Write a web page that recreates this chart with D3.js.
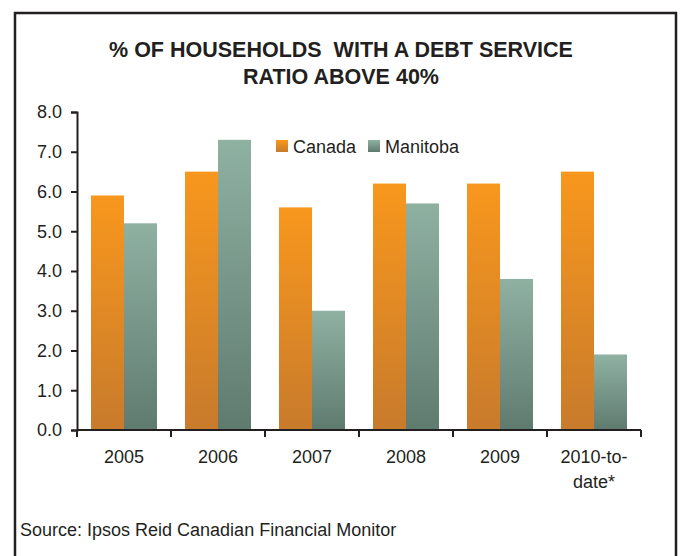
<!DOCTYPE html>
<html>
<head>
<meta charset="utf-8">
<script src="https://cdn.jsdelivr.net/npm/d3@7"></script>
<style>
  body { margin: 0; background: #fff; }
  svg { display: block; font-family: "Liberation Sans", Arial, sans-serif; }
</style>
</head>
<body>
<svg></svg>
<script>
const width = 681;
const height = 556;

const categories = ['2005', '2006', '2007', '2008', '2009', '2010-to-date*'];
const tickLabels = [['2005'], ['2006'], ['2007'], ['2008'], ['2009'], ['2010-to-', 'date*']];
const seriesNames = ['Canada', 'Manitoba'];
const canada = [5.9, 6.5, 5.6, 6.2, 6.2, 6.5];
const manitoba = [5.2, 7.3, 3.0, 5.7, 3.8, 1.9];
const yTicks = [0, 1, 2, 3, 4, 5, 6, 7, 8];

const ink = '#231f20';

const svg = d3.select('svg')
  .attr('width', width)
  .attr('height', height);

// gradients for the bars
const defs = svg.append('defs');
const grads = {
  Canada: ['#f8971d', '#c87b2c'],
  Manitoba: ['#8fb1a2', '#5f7b6f']
};
Object.entries(grads).forEach(([name, [top, bottom]]) => {
  const lg = defs.append('linearGradient')
    .attr('id', 'grad-' + name)
    .attr('x1', 0).attr('y1', 0).attr('x2', 0).attr('y2', 1);
  lg.append('stop').attr('offset', '0%').attr('stop-color', top);
  lg.append('stop').attr('offset', '100%').attr('stop-color', bottom);
});

// frame
svg.append('path')
  .attr('d', `M15,${height + 5} L15,13 L676,13 L676,${height + 5}`)
  .attr('fill', 'none')
  .attr('stroke', ink)
  .attr('stroke-width', 2.5);

// title
svg.append('text')
  .attr('x', 341)
  .attr('y', 57)
  .attr('text-anchor', 'middle')
  .attr('font-size', 21.5)
  .attr('font-weight', 'bold')
  .attr('fill', ink)
  .attr('xml:space', 'preserve')
  .text('% OF HOUSEHOLDS  WITH A DEBT SERVICE');
svg.append('text')
  .attr('x', 341)
  .attr('y', 84)
  .attr('text-anchor', 'middle')
  .attr('font-size', 21.5)
  .attr('font-weight', 'bold')
  .attr('fill', ink)
  .text('RATIO ABOVE 40%');

const xScale = d3.scaleBand()
  .domain(categories)
  .range([77, 641]);

const seriesScale = d3.scaleBand()
  .domain(seriesNames)
  .range([14, 80]);

const yScale = d3.scaleLinear()
  .domain([0, 8])
  .range([430, 112]);

const data = seriesNames.map(name => ({
  name,
  values: name === 'Canada' ? canada : manitoba
}));

// bars
const g = svg.append('g');
data.forEach(s => {
  g.selectAll(null)
    .data(s.values)
    .enter().append('rect')
    .attr('x', (d, i) => xScale(categories[i]) + seriesScale(s.name))
    .attr('y', d => yScale(d))
    .attr('width', seriesScale.bandwidth())
    .attr('height', d => yScale(0) - yScale(d))
    .attr('fill', `url(#grad-${s.name})`);
});

// y axis
const yAxisG = svg.append('g')
  .attr('transform', `translate(${xScale.range()[0]},0)`)
  .call(d3.axisLeft(yScale)
    .tickValues(yTicks)
    .tickFormat(d3.format('.1f'))
    .tickSizeOuter(0)
    .tickSize(6)
    .tickPadding(9));
yAxisG.select('.domain').attr('stroke', ink).attr('stroke-width', 2);
yAxisG.selectAll('.tick line').attr('stroke', ink).attr('stroke-width', 2);
yAxisG.selectAll('.tick text')
  .attr('font-size', 18)
  .attr('fill', ink)
  .attr('font-family', '"Liberation Sans", Arial, sans-serif');

// x axis
const xAxisG = svg.append('g')
  .attr('transform', `translate(0,${yScale(0)})`);
xAxisG.append('line')
  .attr('x1', xScale.range()[0]).attr('x2', xScale.range()[1])
  .attr('stroke', ink).attr('stroke-width', 2);
const edges = categories.map(c => xScale(c)).concat([xScale.range()[1]]);
xAxisG.selectAll('.edge')
  .data(edges)
  .enter().append('line')
  .attr('x1', d => d).attr('x2', d => d)
  .attr('y1', 0).attr('y2', 7)
  .attr('stroke', ink).attr('stroke-width', 2);
const labelG = xAxisG.selectAll('.lbl')
  .data(categories)
  .enter().append('text')
  .attr('x', d => xScale(d) + xScale.bandwidth() / 2)
  .attr('y', 33)
  .attr('text-anchor', 'middle')
  .attr('font-size', 18)
  .attr('fill', ink);
labelG.each(function(d, i) {
  d3.select(this).selectAll('tspan')
    .data(tickLabels[i])
    .enter().append('tspan')
    .attr('x', xScale(d) + xScale.bandwidth() / 2)
    .attr('dy', (t, j) => j === 0 ? 0 : 25)
    .text(t => t);
});

// legend
const legend = svg.append('g').attr('transform', 'translate(276,140)');
const legendX = [0, 92];
seriesNames.forEach((name, i) => {
  const lg = legend.append('g').attr('transform', `translate(${legendX[i]},0)`);
  lg.append('rect')
    .attr('width', 12).attr('height', 12)
    .attr('fill', `url(#grad-${name})`);
  lg.append('text')
    .attr('x', 17)
    .attr('y', 12.5)
    .attr('font-size', 18)
    .attr('fill', ink)
    .text(name);
});

// source
svg.append('text')
  .attr('x', 20)
  .attr('y', 536)
  .attr('font-size', 18)
  .attr('fill', ink)
  .text('Source: Ipsos Reid Canadian Financial Monitor');
</script>
</body>
</html>
